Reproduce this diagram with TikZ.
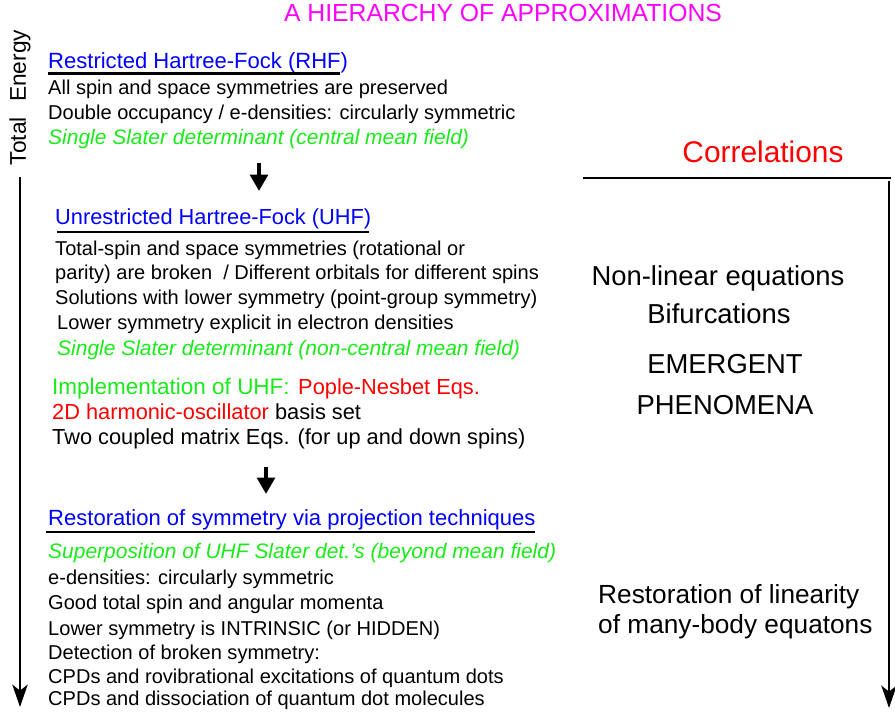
\documentclass[tikz,border=0pt]{standalone}
\usepackage{fontspec}
\setmainfont{Liberation Sans}
\usetikzlibrary{arrows.meta,positioning,calc}
\definecolor{mfgreen}{RGB}{25,235,25}
\definecolor{hiermagenta}{RGB}{255,0,255}

\tikzset{
	txt/.style={anchor=base west, inner sep=0pt, font=\fontsize{17.1}{20}\selectfont},
	hdr/.style={txt, text=blue, font=\fontsize{18.8}{22}\selectfont},
	mf/.style={txt, text=mfgreen, font=\fontsize{17.9}{21}\selectfont\itshape},
	imp/.style={txt, font=\fontsize{18.6}{22}\selectfont},
	big/.style={anchor=base, inner sep=0pt, font=\fontsize{23.4}{27}\selectfont},
	uline/.style={line width=2.5pt},
	stepdown/.style={line width=3.4pt, -{Triangle[length=14pt,width=15pt]}},
	axis/.style={line width=2.4pt, -{Stealth[length=19pt,width=13pt,inset=5pt]}},
}

\begin{document}
\begin{tikzpicture}[x=0.03cm, y=-0.03cm]
	%Frame - one unit is one pixel of the 895x713 reference, y pointing down%
	%===========================================================
	\useasboundingbox (0,0) rectangle (895,713);
	\def \Xrhf {48}; %left edge of RHF block
	\def \Xuhf {55}; %left edge of UHF block
	\def \Ximp {52}; %left edge of implementation block
	\def \Xprj {48}; %left edge of projection block
	\def \Xlin {598}; %left edge of linearity text
	\def \Xcor {722}; %centre of right column
	
	%Title%
	\node[big, text=hiermagenta, font=\fontsize{21.1}{25}\selectfont] (title) at (503,22) {A HIERARCHY OF APPROXIMATIONS};
	
	%Energy axis%
	\node[inner sep=0pt, rotate=90, font=\fontsize{19.4}{23}\selectfont] (energy) at (20,97.5) {Total\hspace{13pt}Energy};
	\coordinate (etop) at (20,177);
	\coordinate (ebot) at (20,707);
	\draw[axis] (etop) -- (ebot);
	
	%=============================================================================================================
	%RHF block%
	%=============================================================================================================
	\node[hdr] (rhf) at (\Xrhf,68.5) {Restricted Hartree-Fock (RHF)};
	\draw[uline] (\Xrhf,73.5) -- (340,73.5); %RHF underline
	\node[txt] (rhf1) at (\Xrhf,95) {All spin and space symmetries are preserved};
	\node[txt] (rhf2) at (\Xrhf,120) {Double occupancy / e-densities: circularly symmetric};
	\node[mf] (rhf3) at (\Xrhf,145) {Single Slater determinant (central mean field)};
	
	\coordinate (a1top) at (259,163);
	\coordinate (a1tip) at (259,191);
	\draw[stepdown] (a1top) -- (a1tip); %RHF -> UHF
	
	%=============================================================================================================
	%UHF block%
	%=============================================================================================================
	\node[hdr, font=\fontsize{18.6}{22}\selectfont] (uhf) at (\Xuhf,225) {Unrestricted Hartree-Fock (UHF)};
	\draw[uline] (\Xuhf+2,232) -- (369,232); %UHF underline
	\node[txt] (uhf1) at (\Xuhf,256) {Total-spin and space symmetries (rotational or};
	\node[txt] (uhf2) at (\Xuhf,280) {parity) are broken \ / Different orbitals for different spins};
	\node[txt] (uhf3) at (\Xuhf,305) {Solutions with lower symmetry (point-group symmetry)};
	\node[txt] (uhf4) at (\Xuhf+2,330) {Lower symmetry explicit in electron densities};
	\node[mf] (uhf5) at (\Xuhf+2,356) {Single Slater determinant (non-central mean field)};
	
	%Implementation%
	\node[imp, text=mfgreen, font=\fontsize{19.2}{22}\selectfont] (impl) at (\Ximp,395) {Implementation of UHF:};
	\node[imp, text=red] (pople) at (298,395) {Pople-Nesbet Eqs.};
	\node[imp] (basis) at (\Ximp,420) {{\color{red}2D harmonic-oscillator} basis set};
	\node[imp] (coupled) at (\Ximp,445) {Two coupled matrix Eqs. (for up and down spins)};
	
	\coordinate (a2top) at (266,467);
	\coordinate (a2tip) at (266,494);
	\draw[stepdown] (a2top) -- (a2tip); %UHF -> projection
	
	%=============================================================================================================
	%Projection block%
	%=============================================================================================================
	\node[hdr] (proj) at (\Xprj,525) {Restoration of symmetry via projection techniques};
	\draw[uline] (\Xprj-2,532) -- (535,532); %projection underline
	\node[mf] (proj1) at (\Xprj,558) {Superposition of UHF Slater det.'s (beyond mean field)};
	\node[txt] (proj2) at (\Xprj,584) {e-densities: circularly symmetric};
	\node[txt] (proj3) at (\Xprj,609) {Good total spin and angular momenta};
	\node[txt] (proj4) at (\Xprj,635) {Lower symmetry is INTRINSIC (or HIDDEN)};
	\node[txt] (proj5) at (\Xprj,659) {Detection of broken symmetry:};
	\node[txt] (proj6) at (\Xprj,683) {CPDs and rovibrational excitations of quantum dots};
	\node[txt] (proj7) at (\Xprj,705) {CPDs and dissociation of quantum dot molecules};
	
	%=============================================================================================================
	%Correlations column%
	%=============================================================================================================
	\node[big, text=red, font=\fontsize{25.5}{30}\selectfont] (corr) at (763,163) {Correlations};
	\coordinate (cleft) at (583,178);
	\coordinate (cright) at (891,178);
	\draw[uline] (cleft) -- (cright);
	\coordinate (ctop) at (889,181);
	\coordinate (cbot) at (889,708);
	\draw[axis] (ctop) -- (cbot);
	
	\node[big] (nonlin) at (718,286) {Non-linear equations};
	\node[big] (bifur) at (719,324) {Bifurcations};
	\node[big] (emerg) at (\Xcor+3,374) {EMERGENT};
	\node[big] (phen) at (\Xcor+3,415) {PHENOMENA};
	\node[big, anchor=base west, font=\fontsize{22.4}{26}\selectfont] (lin1) at (\Xlin,603) {Restoration of linearity};
	\node[big, anchor=base west, font=\fontsize{22.4}{26}\selectfont] (lin2) at (\Xlin,633) {of many-body equatons};
\end{tikzpicture}
\end{document}
